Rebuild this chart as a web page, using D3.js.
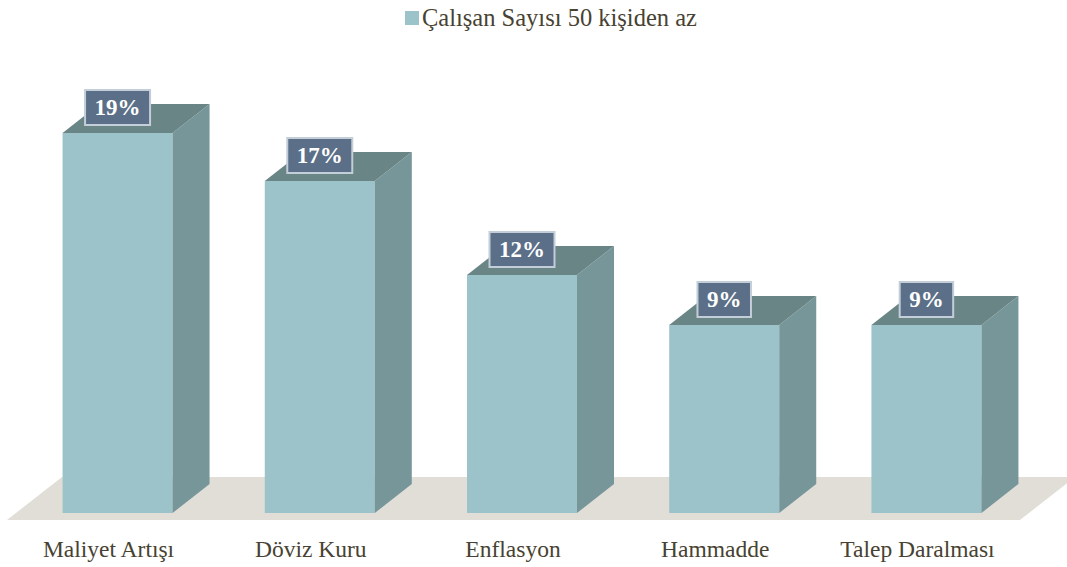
<!DOCTYPE html>
<html lang="tr">
<head>
    <meta charset="UTF-8">
    <title>Çalışan Sayısı 50 kişiden az</title>
    <script src="https://d3js.org/d3.v7.min.js"></script>
    <style>
        body { margin: 0; background: #fff; }
        text { font-family: "Liberation Serif", "Times New Roman", serif; }
        .cat-label { font-size: 23.5px; fill: #474231; }
        .legend-label { font-size: 24.5px; fill: #474231; }
        .val-label { font-size: 23px; font-weight: bold; fill: #fff; }
    </style>
</head>
<body>
    <svg width="1067" height="567"></svg>

    <script>
        // Chart data
        const categories = ["Maliyet Artışı", "Döviz Kuru", "Enflasyon", "Hammadde", "Talep Daralması"];
        const values = [0.19, 0.166, 0.119, 0.094, 0.094];
        const seriesName = "Çalışan Sayısı 50 kişiden az";

        const svg = d3.select("svg");

        // 3D depth offsets for the bars
        const depth = { dx: 37, dy: -29 };
        const base = 513;

        const x = d3.scaleBand()
            .domain(categories)
            .range([12, 1032])
            .paddingInner(0.456)
            .paddingOuter(0.25);

        const y = d3.scaleLinear()
            .domain([0, 0.2])
            .range([base, 113]);

        // Floor
        const floorFront = base + 7, floorBack = base - 36;
        svg.append("polygon")
            .attr("points", [[7, floorFront], [1020, floorFront], [1075, floorBack], [62, floorBack]].join(" "))
            .attr("fill", "#e1ded8");

        const data = categories.map((c, i) => ({ cat: c, value: values[i] }));

        const bars = svg.selectAll(".bar")
            .data(data)
            .enter().append("g")
            .attr("class", "bar");

        // front face
        bars.append("rect")
            .attr("x", d => x(d.cat))
            .attr("y", d => y(d.value))
            .attr("width", x.bandwidth())
            .attr("height", d => base - y(d.value))
            .attr("fill", "#9bc3c9");

        // side face
        bars.append("polygon")
            .attr("points", d => {
                const x1 = x(d.cat) + x.bandwidth(), yt = y(d.value);
                return [[x1, yt], [x1 + depth.dx, yt + depth.dy], [x1 + depth.dx, base + depth.dy], [x1, base]].join(" ");
            })
            .attr("fill", "#779699");

        // top face
        bars.append("polygon")
            .attr("points", d => {
                const x0 = x(d.cat), x1 = x0 + x.bandwidth(), yt = y(d.value);
                return [[x0, yt], [x1, yt], [x1 + depth.dx, yt + depth.dy], [x0 + depth.dx, yt + depth.dy]].join(" ");
            })
            .attr("fill", "#6a8586");

        // value labels in boxes
        const fmt = d3.format(".0%");
        bars.each(function(d) {
            const g = d3.select(this);
            const cx = x(d.cat) + x.bandwidth() / 2;
            const bottom = y(d.value) - 8;
            const box = g.append("rect").attr("fill", "#5b6f88").attr("stroke", "#c3ced8").attr("stroke-width", 2);
            const t = g.append("text")
                .attr("class", "val-label")
                .attr("x", cx)
                .attr("y", bottom - 10)
                .attr("text-anchor", "middle")
                .text(fmt(d.value));
            const w = t.node().getComputedTextLength() + 19;
            box.attr("x", cx - w / 2).attr("y", bottom - 35).attr("width", w).attr("height", 35);
        });

        // category labels, centred on the floor's front edge
        svg.selectAll(".cat-label")
            .data(categories)
            .enter().append("text")
            .attr("class", "cat-label")
            .attr("x", d => x(d) + x.bandwidth() / 2 - 9)
            .attr("y", 557)
            .attr("text-anchor", "middle")
            .text(d => d);

        // legend
        svg.append("rect")
            .attr("x", 405).attr("y", 11)
            .attr("width", 14).attr("height", 14)
            .attr("fill", "#9bc3c9");
        svg.append("text")
            .attr("class", "legend-label")
            .attr("x", 422).attr("y", 26)
            .text(seriesName);
    </script>
</body>
</html>
